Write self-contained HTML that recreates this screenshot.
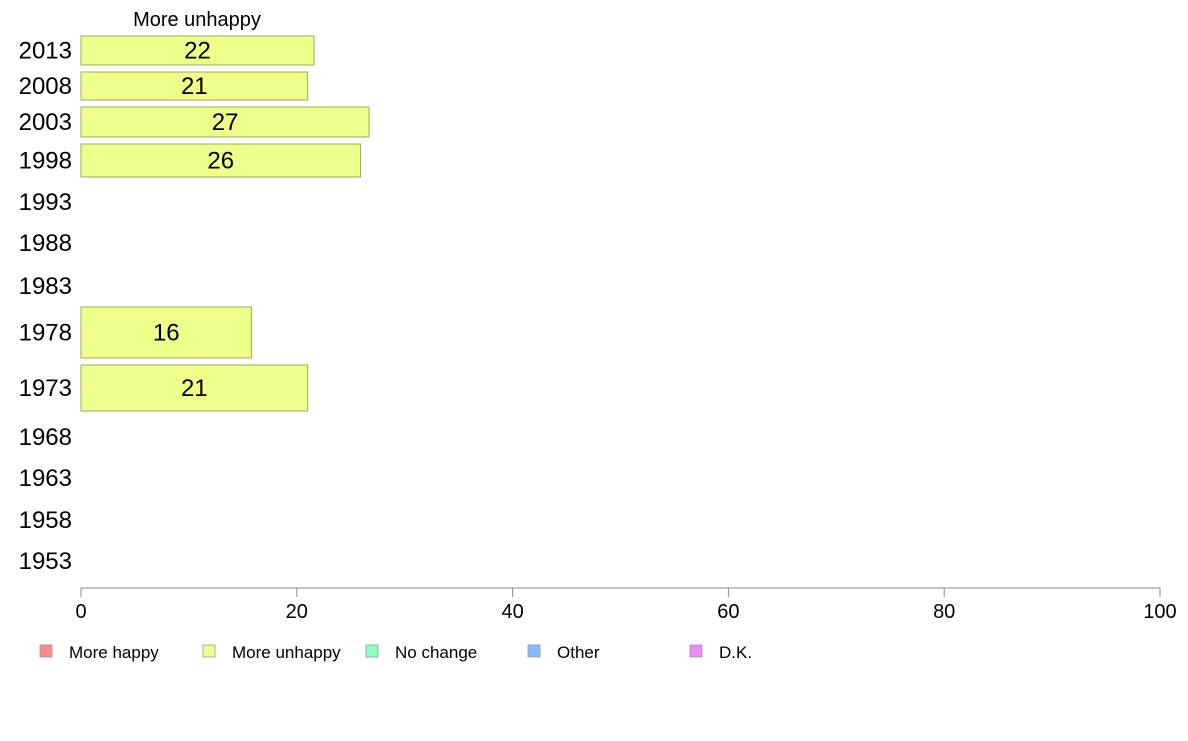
<!DOCTYPE html>
<html><head><meta charset="utf-8"><style>
body{margin:0;background:#fff;font-family:"Liberation Sans",Arial,sans-serif}
svg text{font-family:"Liberation Sans",Arial,sans-serif}
</style></head><body>
<svg id="chart" width="1188" height="736" xmlns="http://www.w3.org/2000/svg">
<text x="197" y="26" font-size="20" text-anchor="middle" fill="#000">More unhappy</text>
<g id="bars"></g><g id="ylabels"></g>
<line x1="81" y1="588" x2="1160" y2="588" stroke="#888" stroke-width="1"/>
<g id="xaxis"></g>
<g id="legend"></g>
</svg>
<script>
const years=["2013","2008","2003","1998","1993","1988","1983","1978","1973","1968","1963","1958","1953"];
const moreUnhappy=[21.6,21.0,26.7,25.9,null,null,null,15.8,21.0,null,null,null,null];
const printed=["22","21","27","26","","","","16","21","","","",""];
const xTicks=[0,20,40,60,80,100];
const legendLabels=["More happy","More unhappy","No change","Other","D.K."];
// layout (pixel) constants
const rowTop=[36,72,107,144,186,227,269,307,365,421,462,504,545];
const rowBot=[65,100,137,177,218,259,303,358,411,453,494,536,577];
const legendColors=["#ff8a8a","#eeff8a","#8affc0","#8ab8ff","#ee8aff"];
const legendX=[40,203,366,528,690];
const ns="http://www.w3.org/2000/svg";
const X0=81,X1=1160;
const xs=v=>X0+(v/100)*(X1-X0);
function mk(t,a,p){const e=document.createElementNS(ns,t);for(const k in a)e.setAttribute(k,a[k]);p.appendChild(e);return e;}
const gb=document.getElementById('bars'),gy=document.getElementById('ylabels'),gx=document.getElementById('xaxis'),gl=document.getElementById('legend');
years.forEach((y,i)=>{
 const cy=(rowTop[i]+rowBot[i])/2;
 const t=mk('text',{x:72,y:cy+8,'font-size':24,'text-anchor':'end',fill:'#000'},gy);t.textContent=y;
 
 
 const v=moreUnhappy[i];
 if(v!=null){
  const r=mk('rect',{x:X0,y:rowTop[i],width:xs(v)-X0,height:rowBot[i]-rowTop[i],fill:'#eeff8a',stroke:'#a0aa60','stroke-width':1},gb);
  
  
  const l=mk('text',{x:(X0+xs(v))/2,y:cy+8,'font-size':24,'text-anchor':'middle',fill:'#000'},gb);l.textContent=printed[i];
  
  
 }
});
xTicks.forEach(v=>{
 const ln=mk('line',{x1:xs(v),x2:xs(v),y1:588,y2:597,stroke:'#888'},gx);
 
 
 const t=mk('text',{x:xs(v),y:618,'font-size':20,'text-anchor':'middle',fill:'#000'},gx);t.textContent=v;
 
 
});
legendLabels.forEach((s,i)=>{
 const r=mk('rect',{x:legendX[i],y:645,width:12,height:12,fill:legendColors[i],stroke:'#999','stroke-width':0.8},gl);
 
 
 const t=mk('text',{x:legendX[i]+29,y:658,'font-size':17,fill:'#000'},gl);t.textContent=s;
 
 
});
</script>
</body></html>
